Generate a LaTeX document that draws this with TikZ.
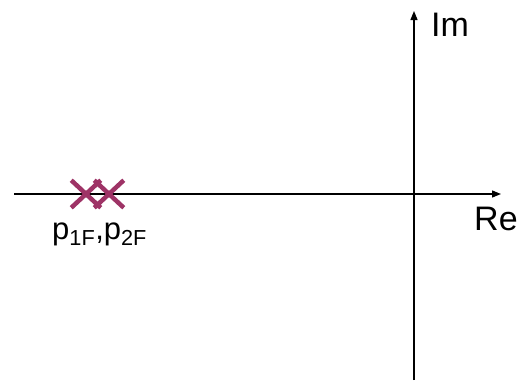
\documentclass[tikz,border=0pt]{standalone}
\usepackage{fontspec}
\setmainfont{Liberation Sans}
\usetikzlibrary{arrows.meta,shapes.misc}
\begin{document}
\begin{tikzpicture}[x=1pt,y=-1pt,
  axis/.style={line width=1.3pt,-{Triangle[length=9pt,width=7pt]}},
  pole/.style={cross out,draw=polecol,line width=4.5pt,minimum width=25pt,minimum height=23pt,inner sep=0pt},
  lbl/.style={font=\fontsize{31}{31}\selectfont,inner sep=0pt},
  biglbl/.style={font=\fontsize{34}{34}\selectfont,inner sep=0pt}]
\definecolor{polecol}{HTML}{9E3366}
\useasboundingbox (0,0) rectangle (521,380);
\coordinate (xs) at (14,194);
\coordinate (xe) at (501,194);
\coordinate (ys) at (414,380);
\coordinate (ye) at (414,11);
\draw[axis] (xs) -- (xe);
\draw[axis] (ys) -- (ye);
\node[pole] (p1) at (86,194) {};
\node[pole] (p2) at (109,194) {};
\node[biglbl,anchor=west] (im) at (431,25) {Im};
\node[biglbl,anchor=west] (re) at (474,219) {Re};
\node[lbl,anchor=west] (pl) at (52,234) {p\textsubscript{1F},p\textsubscript{2F}};
\end{tikzpicture}
\end{document}
